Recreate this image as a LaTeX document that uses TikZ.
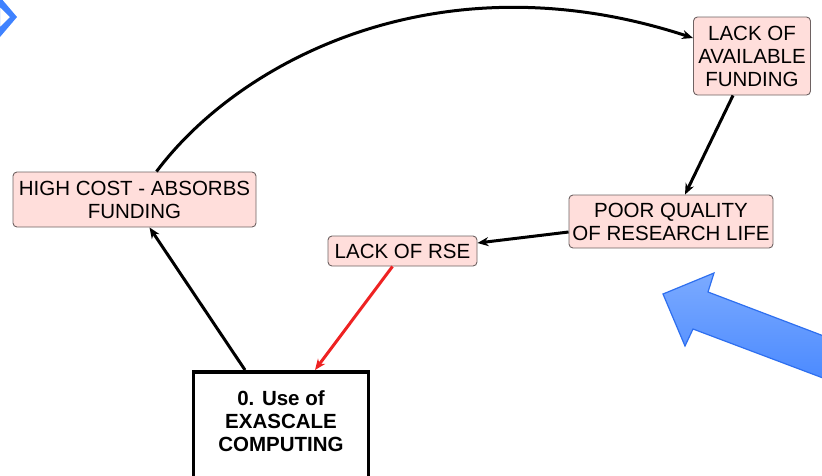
\documentclass[tikz,border=0pt]{standalone}
\usepackage{fontspec}
\setmainfont{Liberation Sans}
\usetikzlibrary{arrows.meta, positioning, shadings}
\definecolor{cycpink}{HTML}{FFDEDB}
\definecolor{cycedge}{HTML}{6E6262}
\definecolor{cycred}{HTML}{EE2222}
\definecolor{cycblue}{HTML}{3F82FF}
\definecolor{cyclight}{HTML}{7BAAFF}
\definecolor{cycblueedge}{HTML}{2E6FEF}

\begin{document}
\begin{tikzpicture}[x=1pt, y=-1pt,
  every node/.style={font=\fontsize{20.5}{23}\selectfont},
  issue/.style={draw=cycedge, fill=cycpink, rounded corners=4pt, line width=0.9pt,
                align=center, inner sep=2pt},
  startbox/.style={draw=black, line width=3.5pt, minimum width=175pt, minimum height=120pt},
  arrow/.style={-{Stealth[length=11pt, width=9pt]}, line width=3pt, color=black},
  redarrow/.style={arrow, color=cycred},
  bigarrow/.style={draw=cycblueedge, line width=1.2pt, top color=cyclight, bottom color=cycblue}
]
\useasboundingbox (0,0) rectangle (822,475);
\clip (0,0) rectangle (822,475);

% blue pointers
\fill[cycblue, even odd rule] (0,-3) -- (17,17) -- (0,37) -- cycle (0,7) -- (10,17) -- (0,27) -- cycle;
\draw[bigarrow] (663,294) -- (714,273) -- (708,292) -- (900,365) -- (900,407) -- (693,329) -- (685,346) -- cycle;

\node[issue, minimum width=117pt, minimum height=78pt] (funding) at (752,56)
  {LACK OF\\AVAILABLE\\FUNDING};
\node[issue, minimum width=243pt, minimum height=55pt] (highcost) at (134.5,199.5)
  {HIGH COST - ABSORBS\\FUNDING};
\node[issue, minimum width=149pt, minimum height=30pt] (rse) at (402.5,251)
  {LACK OF RSE};
\node[issue, minimum width=204pt, minimum height=53pt] (poor) at (671,221.5)
  {POOR QUALITY\\OF RESEARCH LIFE};

\node[startbox, anchor=north] (exa) at (281,370) {};
\node[font=\bfseries\fontsize{20.5}{23}\selectfont, align=center] (exatext) at (281,421)
  {0. Use of\\EXASCALE\\COMPUTING};

\draw[arrow] ([xshift=22pt]highcost.north) .. controls (240,60) and (440,-45) .. ([yshift=18pt]funding.west);
\draw[arrow] ([xshift=-19pt]funding.south) -- ([xshift=14pt]poor.north);
\draw[arrow] ([yshift=-10.5pt]poor.west) -- ([yshift=8pt]rse.east);
\draw[redarrow] ([xshift=-10pt]rse.south) -- ([xshift=34pt]exa.north);
\draw[arrow] ([xshift=-36pt]exa.north) -- ([xshift=15pt]highcost.south);

\end{tikzpicture}
\end{document}
